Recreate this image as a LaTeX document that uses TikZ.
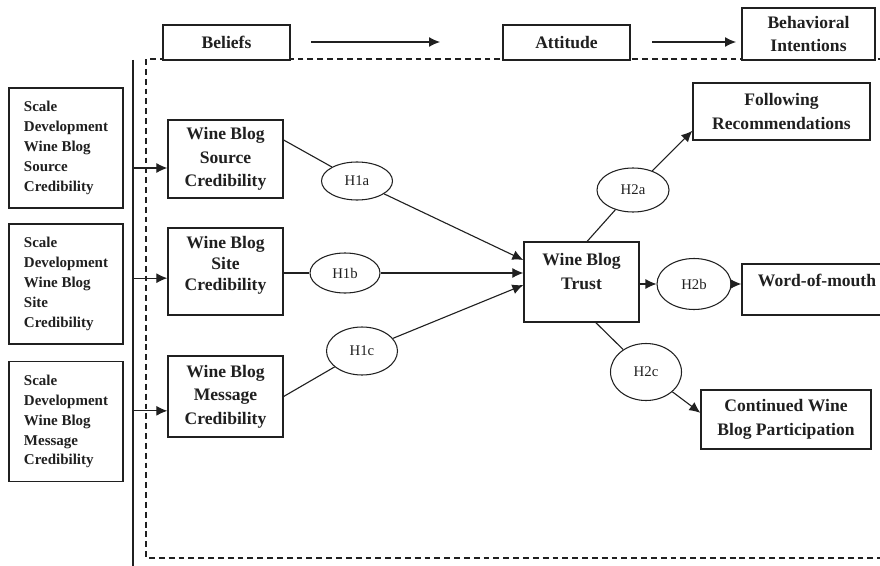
\documentclass[tikz,border=0pt]{standalone}
\usepackage{fontspec}
\setmainfont{Liberation Serif}
\usetikzlibrary{positioning}
\usetikzlibrary{calc,arrows.meta}
\usetikzlibrary{shapes.geometric}
\definecolor{wb-ink}{HTML}{202020}

\begin{document}
\begin{tikzpicture}[
    x=0.03cm, y=-0.03cm, % one unit = one pixel of the layout
    >={Latex[length=0.33cm,width=0.3cm]},
    line join=miter
  ]

  \tikzset{
    devbox/.style={draw=wb-ink, line width=0.9pt, text=wb-ink, align=left, inner sep=0pt, minimum width=3.42cm, minimum height=3.6cm, font=\fontsize{12.8}{17}\selectfont\bfseries},
    block/.style={draw=wb-ink, line width=1.1pt, text=wb-ink, align=center, inner sep=0pt, font=\fontsize{15}{20}\selectfont\bfseries},
    hyp/.style={ellipse, draw=wb-ink, line width=0.9pt, text=wb-ink, inner sep=0pt, font=\fontsize{12.6}{14}\selectfont},
    link/.style={draw=wb-ink, line width=0.95pt}
  }

  \useasboundingbox (0,0) rectangle (880,565);

  % Dashed frame and left rule
  \draw[wb-ink, line width=0.9pt, dash pattern=on 5pt off 3.4pt] (884,59) -- (146,59) -- (146,558) -- (884,558);
  \coordinate (vtop) at (133,60);
  \coordinate (vbot) at (133,566);
  \draw[link, line width=1.1pt] (vtop) -- (vbot);

  % Header row
  \node (bel) [block, minimum width=3.81cm, minimum height=1.05cm, fill=white] at (226.5,42.5) {Beliefs};
  \node (att) [block, minimum width=3.81cm, minimum height=1.05cm, fill=white] at (566.5,42.5) {Attitude};
  \node (bhv) [block, minimum width=3.99cm, minimum height=1.56cm, fill=white] at (808.5,34) {Behavioral\\Intentions};
  \coordinate (ba1) at (311,42);
  \coordinate (ba2) at (440,42);
  \coordinate (ab1) at (652,42);
  \coordinate (ab2) at (736,42);
  \draw[link, ->] (ba1) -- (ba2);
  \draw[link, ->] (ab1) -- (ab2);

  % Scale development boxes
  \node (dev1) [devbox] at (66,148) {Scale\\Development\\Wine Blog\\Source\\Credibility};
  \node (dev2) [devbox] at (66,284) {Scale\\Development\\Wine Blog\\Site\\Credibility};
  \node (dev3) [devbox] at (66,421.5) {Scale\\Development\\Wine Blog\\Message\\Credibility};

  % Beliefs
  \node (src) [block, minimum width=3.45cm, minimum height=2.34cm] at (225.5,159) {Wine Blog\\Source\\Credibility};
  \node (site) [block, minimum width=3.45cm, text height=1.86cm, text depth=0.75cm, font=\fontsize{15}{17.5}\selectfont\bfseries] at (225.5,271.5) {Wine Blog\\Site\\Credibility};
  \node (msg) [block, minimum width=3.45cm, minimum height=2.43cm] at (225.5,396.5) {Wine Blog\\Message\\Credibility};

  % Attitude
  \node (trust) [block, minimum width=3.45cm, text height=1.41cm, text depth=0.99cm] at (581.5,282) {Wine Blog\\Trust};

  % Behavioral intentions
  \node (follow) [block, minimum width=5.31cm, minimum height=1.71cm] at (781.5,111.5) {Following\\Recommendations};
  \node (word) [block, minimum width=4.5cm, text height=0.66cm, text depth=0.87cm] at (817,289.5) {Word-of-mouth};
  \node (cont) [block, minimum width=5.1cm, minimum height=1.77cm] at (786,419.5) {Continued Wine\\Blog Participation};

  % Hypotheses
  \node (h1a) [hyp, minimum width=2.13cm, minimum height=1.14cm] at (357,181) {H1a};
  \node (h1b) [hyp, minimum width=2.1cm, minimum height=1.2cm] at (345,273) {H1b};
  \node (h1c) [hyp, minimum width=2.13cm, minimum height=1.44cm] at (362,351) {H1c};
  \node (h2a) [hyp, minimum width=2.16cm, minimum height=1.32cm] at (633,190) {H2a};
  \node (h2b) [hyp, minimum width=2.22cm, minimum height=1.53cm] at (694,284) {H2b};
  \node (h2c) [hyp, minimum width=2.13cm, minimum height=1.71cm] at (646,372) {H2c};

  % Inputs from scale development
  \coordinate (in1) at ([yshift=-0.27cm]src.west);
  \coordinate (in2) at ([yshift=-0.2cm]site.west);
  \coordinate (in3) at ([yshift=-0.43cm]msg.west);
  \draw[link, ->] (vtop |- in1) -- (in1);
  \draw[link, ->] (vtop |- in2) -- (in2);
  \draw[link, ->] (vtop |- in3) -- (in3);

  % Beliefs -> trust
  \draw[link] ([yshift=0.57cm]src.east) -- (h1a);
  \draw[link, ->] (h1a) -- ([yshift=0.66cm]trust.west);
  \draw[link] (site.east |- h1b) -- (h1b.west);
  \draw[link, ->] (h1b.east) -- (h1b.east -| trust.west);
  \draw[link] (msg.east) -- (h1c);
  \draw[link, ->] (h1c) -- ([yshift=-0.09cm]trust.west);

  % Trust -> intentions
  \draw[link] ([xshift=0.17cm]trust.north) -- (h2a);
  \draw[link, ->] (h2a) -- ([yshift=-0.58cm]follow.west);
  \draw[link, ->] (trust.east |- h2b) -- (h2b.west);
  \draw[link, ->] (h2b.east) -- (h2b.east -| word.west);
  \draw[link] ([xshift=0.43cm]trust.south) -- (h2c);
  \draw[link, ->] (h2c) -- ([yshift=0.2cm]cont.west);

\end{tikzpicture}
\end{document}
